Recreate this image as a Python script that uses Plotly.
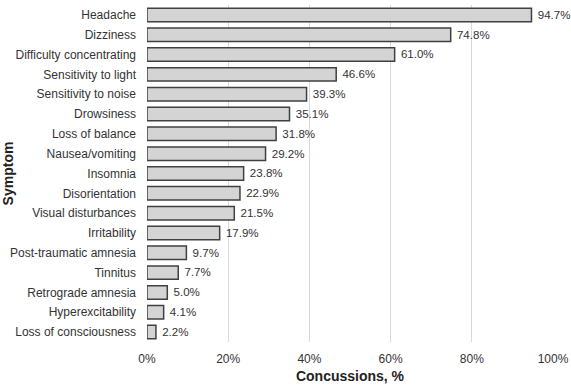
import plotly.graph_objects as go

symptoms = ["Headache", "Dizziness", "Difficulty concentrating", "Sensitivity to light",
            "Sensitivity to noise", "Drowsiness", "Loss of balance", "Nausea/vomiting",
            "Insomnia", "Disorientation", "Visual disturbances", "Irritability",
            "Post-traumatic amnesia", "Tinnitus", "Retrograde amnesia",
            "Hyperexcitability", "Loss of consciousness"]
percent = [94.7, 74.8, 61.0, 46.6, 39.3, 35.1, 31.8, 29.2, 23.8, 22.9, 21.5, 17.9,
           9.7, 7.7, 5.0, 4.1, 2.2]
tick_vals = [0, 20, 40, 60, 80, 100]
tick_text = ["0%", "20%", "40%", "60%", "80%", "100%"]

fig = go.Figure(go.Bar(
    x=percent, y=symptoms, orientation="h",
    marker=dict(color="#d4d4d4", line=dict(color="#404040", width=1.5)),
    width=0.68,
    text=[f" {v:.1f}%" for v in percent], textposition="outside",
    textfont=dict(size=12, color="#333333"),
    cliponaxis=False,
))
fig.update_layout(
    width=571, height=387,
    margin=dict(l=147, r=18, t=5, b=45),
    plot_bgcolor="white", paper_bgcolor="white",
    font=dict(family="Liberation Sans, Arial, sans-serif", size=12, color="#333333"),
    showlegend=False,
)
fig.update_xaxes(range=[0, 100], tickvals=tick_vals, ticktext=tick_text,
                 showgrid=True, gridcolor="#d9d9d9", gridwidth=1, zeroline=False,
                 automargin=False, ticklabelstandoff=8,
                 title=dict(text="<b>Concussions, %</b>", font=dict(size=14, color="#222222"), standoff=6),
                 ticks="", showline=False)
fig.update_yaxes(categoryorder="array", categoryarray=symptoms, autorange="reversed",
                 automargin=False,
                 title=dict(text="<b>Symptom</b>", font=dict(size=14, color="#222222"), standoff=6),
                 ticks="", ticklabelstandoff=10, showline=False, showgrid=False)
fig.write_html("out.html")
